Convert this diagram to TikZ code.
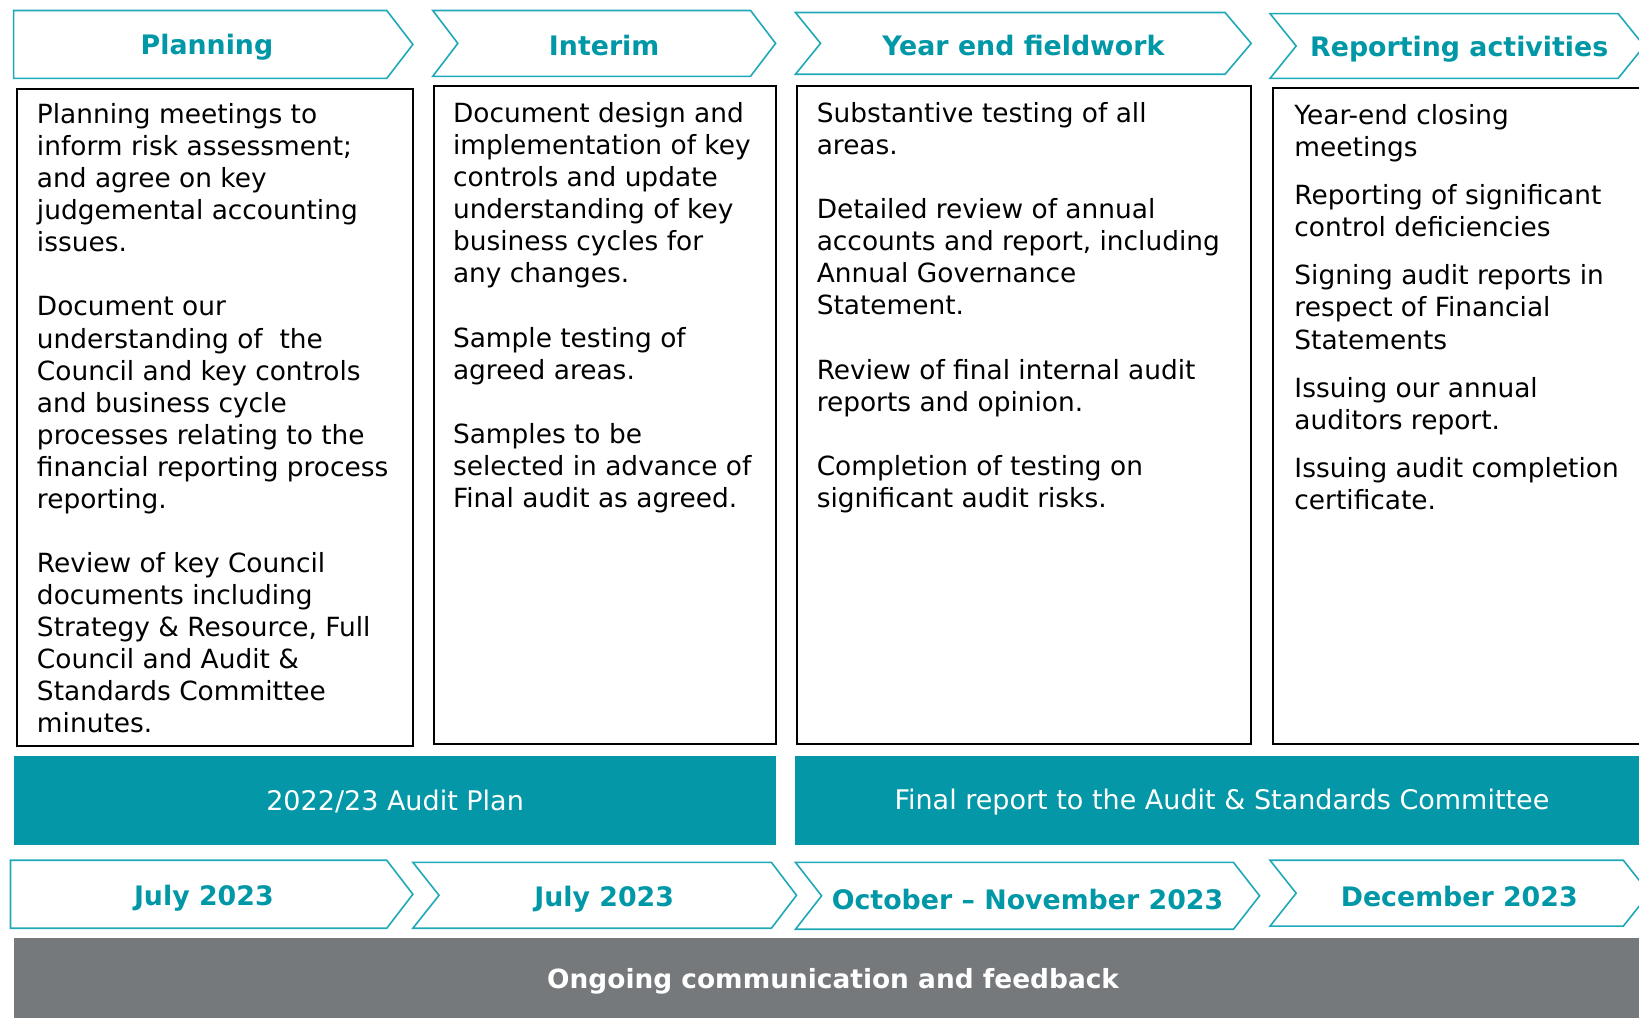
\documentclass[tikz,border=0pt]{standalone}
\usepackage{fontspec}
\setmainfont{DejaVu Sans}
\definecolor{teal1}{HTML}{0397A7}
\definecolor{tealtxt}{HTML}{0097A7}
\definecolor{tealline}{HTML}{1FA8B8}
\definecolor{greybar}{HTML}{75797C}
\tikzset{
  chev/.style={draw=tealline, line width=0.8pt, fill=white},
  hdtxt/.style={text=tealtxt, font=\fontsize{13.4}{16}\selectfont\bfseries, inner sep=0pt, yshift=-1pt},
  bodybox/.style={draw=black, line width=1pt},
  bodytxt/.style={anchor=north west, inner sep=0pt, align=left, font=\fontsize{13.2}{16.03}\selectfont},
  barfill/.style={fill=teal1, draw=none},
  bartxt/.style={text=white, font=\fontsize{13.5}{16}\selectfont, inner sep=0pt},
}
\begin{document}
\begin{tikzpicture}[x=0.5226pt, y=-0.5226pt]
\useasboundingbox (0,0) rectangle (1568,973);
\clip (0,0) rectangle (1568,973);
% top chevrons
\draw[chev] (13,10) -- (370,10) -- (395,42.5) -- (370,75) -- (13,75) -- cycle;
\draw[chev] (414,10) -- (718,10) -- (742,41.5) -- (718,73) -- (414,73) -- (438,41.5) -- cycle;
\draw[chev] (761,12) -- (1172,12) -- (1197,41.5) -- (1172,71) -- (761,71) -- (785,41.5) -- cycle;
\draw[chev] (1215,13) -- (1548,13) -- (1573,44) -- (1548,75) -- (1215,75) -- (1240,44) -- cycle;
\node[hdtxt] (h1) at (198,43) {Planning};
\node[hdtxt] (h2) at (578,42) {Interim};
\node[hdtxt] (h3) at (979,42) {Year end fieldwork};
\node[hdtxt] (h4) at (1396,45) {Reporting activities};
% body boxes
\draw[bodybox] (16,85) rectangle (395,714);
\draw[bodybox] (415,82) rectangle (742,712);
\draw[bodybox] (762,82) rectangle (1197,712);
\draw[bodybox] (1218,84) rectangle (1580,712);
\node[bodytxt] (b1) at (35,96.4) {\strut Planning meetings to\\inform risk assessment;\\and agree on key\\judgemental accounting\\issues.\\[16.03pt]Document our\\understanding of\ \ the\\Council and key controls\\and business cycle\\processes relating to the\\financial reporting process\\reporting.\\[16.03pt]Review of key Council\\documents including\\Strategy \& Resource, Full\\Council and Audit \&\\Standards Committee\\minutes.};
\node[bodytxt] (b2) at (433,95.4) {\strut Document design and\\implementation of key\\controls and update\\understanding of key\\business cycles for\\any changes.\\[16.03pt]Sample testing of\\agreed areas.\\[16.03pt]Samples to be\\selected in advance of\\Final audit as agreed.};
\node[bodytxt] (b3) at (781,95.4) {\strut Substantive testing of all\\areas.\\[16.03pt]Detailed review of annual\\accounts and report, including\\Annual Governance\\Statement.\\[16.03pt]Review of final internal audit\\reports and opinion.\\[16.03pt]Completion of testing on\\significant audit risks.};
\node[bodytxt] (b4) at (1238,97.4) {\strut Year-end closing\\meetings\\[8pt]Reporting of significant\\control deficiencies\\[8pt]Signing audit reports in\\respect of Financial\\Statements\\[8pt]Issuing our annual\\auditors report.\\[8pt]Issuing audit completion\\certificate.};
% teal bars
\fill[barfill] (13,723) rectangle (742,808);
\fill[barfill] (761,723) rectangle (1580,808);
\node[bartxt] (p1) at (378,767) {2022/23 Audit Plan};
\node[bartxt] (p2) at (1169,767) {Final report to the Audit \& Standards Committee};
% bottom chevrons
\draw[chev] (10,823) -- (370,823) -- (395,855.5) -- (370,888) -- (10,888) -- cycle;
\draw[chev] (395,825) -- (738,825) -- (762,856.5) -- (738,888) -- (395,888) -- (420,856.5) -- cycle;
\draw[chev] (761,825) -- (1180,825) -- (1205,857) -- (1180,889) -- (761,889) -- (786,857) -- cycle;
\draw[chev] (1215,823) -- (1553,823) -- (1578,854.5) -- (1553,886) -- (1215,886) -- (1240,854.5) -- cycle;
\node[hdtxt] (d1) at (195,857) {July 2023};
\node[hdtxt] (d2) at (578,858) {July 2023};
\node[hdtxt] (d3) at (983,859) {October -- November 2023};
\node[hdtxt] (d4) at (1396,856) {December 2023};
% grey bar
\fill[greybar] (13,897) rectangle (1580,980);
\node[bartxt, font=\fontsize{13.2}{16}\selectfont\bfseries] (g) at (797,939) {Ongoing communication and feedback};
\end{tikzpicture}
\end{document}
